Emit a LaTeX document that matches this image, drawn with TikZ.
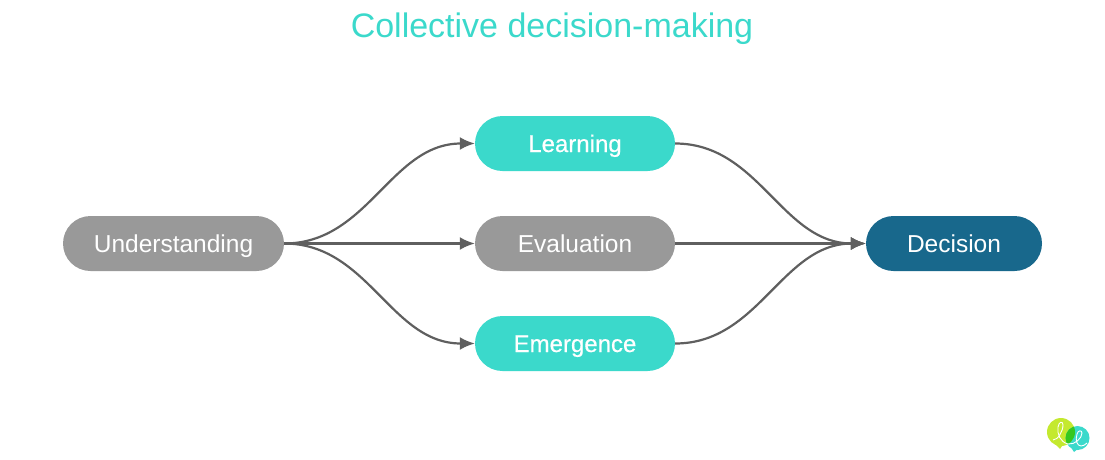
\documentclass[tikz,border=0pt]{standalone}
\usepackage{fontspec}
\setmainfont{Liberation Sans}
\newfontfamily\mediumfont[FakeBold=0.5]{Liberation Sans}
\usetikzlibrary{arrows.meta, positioning}
\definecolor{tealbox}{HTML}{3BD9CB}
\definecolor{greybox}{HTML}{999999}
\definecolor{bluebox}{HTML}{18688C}
\definecolor{linegrey}{HTML}{5F5F5F}
\definecolor{logolime}{HTML}{C4E92F}
\definecolor{logogreen}{HTML}{35C81F}
\tikzset{
  pill/.style={rounded corners=27.5pt,minimum height=55pt,inner sep=0pt,text=white,text height=17pt,text depth=0pt,font=\fontsize{24.5}{28}\selectfont},
  tealpill/.style={pill,fill=tealbox,minimum width=200pt,font=\fontsize{24}{28}\selectfont\mediumfont},
  link/.style={-{Latex[length=15pt,width=13pt]},line width=2.2pt,linegrey},
}
\begin{document}
\begin{tikzpicture}[x=1pt,y=-1pt]
\useasboundingbox (0,0) rectangle (1105,459);
\node[text=tealbox,font=\fontsize{34}{40}\selectfont,text height=25pt,text depth=7pt] (title) at (552,28.5) {Collective decision-making};
% boxes
\node[pill,fill=greybox,minimum width=221pt] (understanding) at (173.5,243.5) {Understanding};
\node[tealpill] (learning) at (575,143.5) {Learning};
\node[pill,fill=greybox,minimum width=200pt] (evaluation) at (575,243.5) {Evaluation};
\node[tealpill] (emergence) at (575,343.5) {Emergence};
\node[pill,fill=bluebox,minimum width=176pt] (decision) at (954,243.5) {Decision};
% links
\draw[link] (understanding.east) to[out=0,in=180] (learning.west);
\draw[link] (understanding.east) -- (evaluation.west);
\draw[link] (understanding.east) to[out=0,in=180] (emergence.west);
\draw[link] (learning.east) to[out=0,in=180] (decision.west);
\draw[link] (evaluation.east) -- (decision.west);
\draw[link] (emergence.east) to[out=0,in=180] (decision.west);
% logo
\fill[logolime] (1061,432) circle (14);
\fill[logolime] (1054,443) -- (1060,449) -- (1064,443) -- cycle;
\fill[tealbox] (1077.5,438) circle (12);
\fill[tealbox] (1070,446) -- (1074,452) -- (1079,448) -- cycle;
\begin{scope}
\clip (1061,432) circle (14);
\fill[logogreen] (1077.5,438) circle (12);
\end{scope}
\draw[white,line width=0.9pt] (1053,440) .. controls (1058,440) and (1063,431) .. (1063,425) .. controls (1063,421) and (1059,421) .. (1058,427) .. controls (1057,434) and (1060,442) .. (1068,444) .. controls (1075,445) and (1082,438) .. (1082,433) .. controls (1082,430) and (1078,430) .. (1077,434) .. controls (1075,440) and (1077,446) .. (1081,446) .. controls (1083,446) and (1085,445) .. (1087,443);
\end{tikzpicture}
\end{document}
